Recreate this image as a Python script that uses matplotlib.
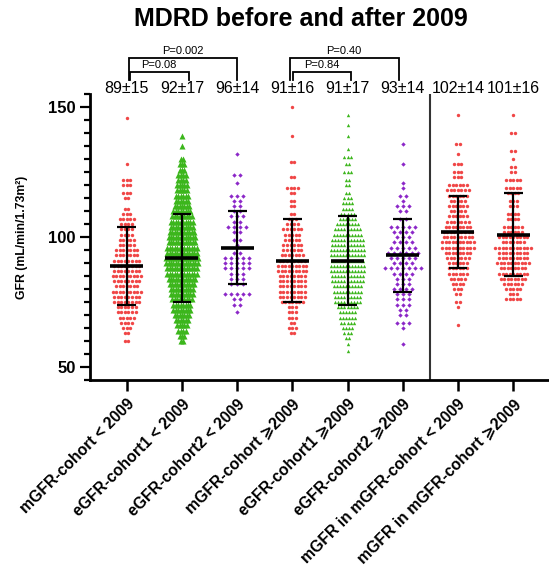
import numpy as np
import matplotlib
matplotlib.use("Agg")
import matplotlib.pyplot as plt
from matplotlib.ticker import MultipleLocator

plt.rcParams['font.family'] = ['Liberation Sans', 'DejaVu Sans']

# group names on the x axis
labels = ["mGFR-cohort < 2009", "eGFR-cohort1 < 2009", "eGFR-cohort2 < 2009",
          "mGFR-cohort \u2a7e2009", "eGFR-cohort1 \u2a7e2009", "eGFR-cohort2 \u2a7e2009",
          "mGFR in mGFR-cohort < 2009", "mGFR in mGFR-cohort \u2a7e2009"]

# mean and SD of each group
means = [89, 92, 96, 91, 91, 93, 102, 101]
sds = [15, 17, 14, 16, 17, 14, 14, 16]

# individual GFR values, stored as value level -> number of patients at that level
g1_levels = [146, 128, 122, 120, 117, 115, 111, 109, 107, 105, 103, 101, 99, 97, 95, 93,
             91, 89, 87, 85, 83, 81, 79, 77, 75, 73, 71, 69, 67, 65, 63, 60]
g1_counts = [1, 1, 3, 3, 3, 2, 2, 3, 5, 4, 4, 4, 5, 5, 7, 7,
             8, 8, 8, 9, 8, 7, 9, 8, 8, 6, 6, 5, 4, 3, 2, 2]

g2_levels = [139, 135, 130, 128, 126, 124, 122, 120, 118, 116, 114, 112, 110, 108, 106, 104,
             102, 100, 98, 96, 94, 92, 90, 88, 86, 84, 82, 80, 78, 76, 74, 72, 70, 68, 66, 64, 62, 60]
g2_counts = [1, 1, 2, 3, 3, 4, 4, 5, 5, 6, 6, 7, 8, 9, 10, 10,
             11, 12, 12, 13, 13, 14, 14, 13, 13, 12, 11, 10, 10, 9, 8, 8, 7, 6, 5, 4, 3, 2]

g3_levels = [132, 124, 121, 116, 114, 112, 110, 108, 106, 104, 102, 99, 97, 94, 92, 90,
             88, 86, 84, 82, 78, 76, 74, 71]
g3_counts = [1, 2, 1, 3, 2, 2, 2, 3, 2, 4, 2, 2, 1, 2, 5, 5,
             5, 3, 3, 3, 5, 2, 2, 1]

g4_levels = [150, 139, 129, 123, 119, 117, 114, 112, 109, 107, 105, 103, 101, 99, 97, 95,
             93, 91, 89, 87, 85, 83, 81, 79, 77, 75, 73, 71, 69, 67, 65, 63]
g4_counts = [1, 1, 2, 2, 4, 2, 2, 2, 2, 3, 4, 6, 5, 5, 6, 6,
             7, 8, 9, 9, 8, 8, 8, 8, 8, 7, 3, 3, 3, 2, 3, 2]

g5_levels = [147, 143, 139, 134, 131, 128, 125, 122, 120, 117, 115, 113, 111, 109, 107, 105,
             103, 101, 99, 97, 95, 93, 91, 89, 87, 85, 83, 81, 79, 77, 75, 73, 71, 69, 67, 65,
             63, 61, 59, 56]
g5_counts = [1, 1, 1, 1, 3, 2, 3, 2, 2, 2, 3, 4, 4, 5, 6, 8,
             9, 10, 11, 11, 12, 12, 11, 12, 12, 11, 11, 10, 10, 9, 9, 7, 6, 6, 5, 4,
             3, 2, 1, 1]

g6_levels = [136, 128, 121, 119, 116, 114, 112, 110, 107, 104, 102, 100, 98, 96, 94, 92,
             90, 88, 86, 84, 82, 80, 78, 76, 74, 72, 70, 67, 65, 59]
g6_counts = [1, 1, 1, 1, 2, 1, 3, 2, 2, 5, 4, 3, 4, 5, 6, 5,
             4, 7, 4, 3, 3, 4, 3, 3, 3, 2, 2, 3, 1, 1]

g7_levels = [147, 136, 132, 128, 125, 123, 120, 118, 116, 114, 112, 110, 108, 106, 104, 102,
             100, 98, 96, 94, 92, 90, 88, 86, 84, 82, 80, 78, 75, 73, 66]
g7_counts = [1, 2, 1, 3, 3, 3, 6, 7, 6, 5, 6, 5, 6, 7, 8, 9,
             9, 10, 10, 8, 7, 6, 6, 6, 5, 4, 3, 2, 2, 1, 1]

g8_levels = [147, 140, 133, 130, 127, 125, 122, 119, 117, 114, 112, 109, 107, 104, 102, 100,
             98, 96, 94, 92, 90, 88, 86, 84, 82, 80, 78, 76]
g8_counts = [1, 2, 2, 1, 2, 2, 5, 5, 4, 3, 3, 4, 4, 6, 6, 9,
             7, 11, 9, 9, 10, 8, 9, 8, 6, 5, 3, 5]

# (x1, x2, bracket top, p-value text)
brackets = [(0.05, 2.0, 169.0, "P=0.002"), (0.06, 1.12, 163.6, "P=0.08"),
            (2.95, 4.93, 169.0, "P=0.40"), (3.01, 4.07, 163.6, "P=0.84")]

RED = "#f04646"
GREEN = "#3cb61c"
PURPLE = "#8c28c8"

group_data = [(g1_levels, g1_counts), (g2_levels, g2_counts), (g3_levels, g3_counts),
              (g4_levels, g4_counts), (g5_levels, g5_counts), (g6_levels, g6_counts),
              (g7_levels, g7_counts), (g8_levels, g8_counts)]

styles = [dict(marker="o", c=RED, s=6, dx=0.064),
          dict(marker="^", c=GREEN, s=19, dx=0.044),
          dict(marker="D", c=PURPLE, s=5, dx=0.11),
          dict(marker="o", c=RED, s=6, dx=0.064),
          dict(marker="^", c=GREEN, s=6, dx=0.055),
          dict(marker="D", c=PURPLE, s=5, dx=0.11),
          dict(marker="o", c=RED, s=6, dx=0.064),
          dict(marker="o", c=RED, s=6, dx=0.064)]


def swarm(ax, x0, levels, counts, dx, **kw):
    # lay points of equal value side by side in a centred row
    xs, ys = [], []
    for v, n in zip(levels, counts):
        xs.extend(x0 + (np.arange(n) - (n - 1) / 2.0) * dx)
        ys.extend([v] * n)
    ax.scatter(xs, ys, linewidths=0, zorder=3, **kw)


def bracket(ax, x1, x2, ytop, text, ybot=160.5):
    ax.plot([x1, x1, x2, x2], [ybot, ytop, ytop, ybot], color="black", lw=1.3,
            clip_on=False, solid_joinstyle="miter")
    ax.text((x1 + x2) / 2.0, ytop + 0.6, text, ha="center", va="bottom",
            fontsize=8, clip_on=False)


fig = plt.figure(figsize=(5.49, 5.69), dpi=100)
ax = fig.add_axes([90.3 / 549, 189 / 569, (549 - 90.3) / 549, 285.7 / 569])

for i, ((lv, ct), st) in enumerate(zip(group_data, styles)):
    st = dict(st)
    dx = st.pop("dx")
    swarm(ax, i, lv, ct, dx, **st)
    m, sd = means[i], sds[i]
    ax.hlines(m, i - 0.3, i + 0.3, color="black", lw=2.6, zorder=5)
    ax.vlines(i, m - sd, m + sd, color="black", lw=1.6, zorder=5)
    ax.hlines([m - sd, m + sd], i - 0.17, i + 0.17, color="black", lw=1.6, zorder=5)
    ax.text(i, 157.2, f"{m}\u00b1{sd}", ha="center", va="center", fontsize=11.5,
            clip_on=False)

for x1, x2, yt, txt in brackets:
    bracket(ax, x1, x2, yt, txt)

ax.axvline(5.5, color="#333333", lw=1.5, zorder=2)

ax.set_xlim(-0.66, 7.65)
ax.set_ylim(45, 155)
ax.spines["top"].set_visible(False)
ax.spines["right"].set_visible(False)
ax.spines["left"].set_linewidth(2)
ax.spines["bottom"].set_linewidth(2)

ax.set_yticks([50, 100, 150])
ax.yaxis.set_minor_locator(MultipleLocator(5))
ax.tick_params(axis="y", which="major", length=7, width=1.6, labelsize=12)
ax.tick_params(axis="y", which="minor", length=4, width=1.6)
for t in ax.get_yticklabels():
    t.set_fontweight("bold")

ax.set_xticks(range(len(labels)))
ax.set_xticklabels(labels, rotation=45, ha="right", rotation_mode="anchor",
                   fontsize=11.3, fontweight="bold")
ax.tick_params(axis="x", length=8, width=1.8, pad=4)

ax.set_ylabel("GFR (mL/min/1.73m\u00b2)", fontsize=8.8, fontweight="bold")
ax.yaxis.set_label_coords(-0.136, 0.5)

fig.text(0.548, 0.966, "MDRD before and after 2009", ha="center", va="center",
         fontsize=18, fontweight="bold")

fig.savefig("out.png", dpi=100)
